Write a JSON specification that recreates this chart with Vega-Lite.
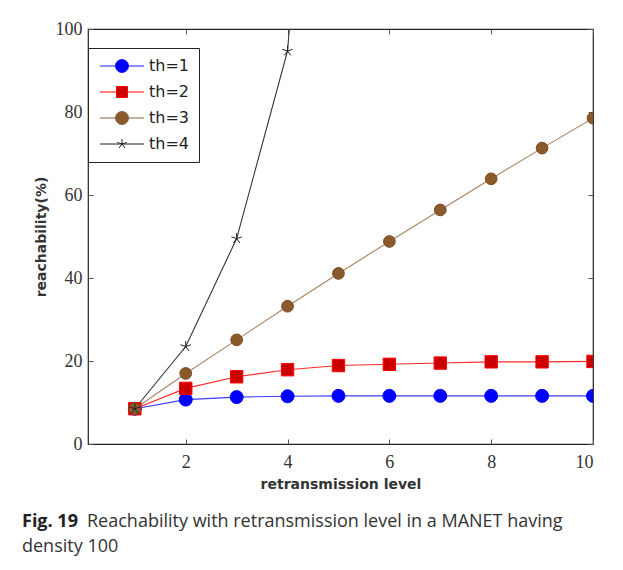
{
  "$schema": "https://vega.github.io/schema/vega-lite/v6.json",
  "width": 505,
  "height": 415,
  "autosize": "none",
  "padding": {"left": 88, "top": 29, "right": 30, "bottom": 126},
  "background": "white",
  "config": {
    "view": {"stroke": "#222222", "strokeWidth": 1.2},
    "axis": {"grid": false, "domain": false}
  },
  "title": {
    "text": "Fig. 19",
    "subtitle": ["\u2800\u2800\u2800\u2800\u2800Reachability with retransmission level in a MANET having", "density 100"],
    "orient": "bottom",
    "anchor": "start",
    "frame": "group",
    "dx": -66,
    "offset": 22,
    "font": "Open Sans",
    "fontSize": 18,
    "fontWeight": "bold",
    "color": "#222222",
    "subtitleFont": "Open Sans",
    "subtitleFontSize": 18,
    "subtitleColor": "#333333",
    "subtitleLineHeight": 25,
    "subtitlePadding": -18
  },
  "data": {
    "values": [
      {"x": 1, "y": 8.5, "s": "th=1"}, {"x": 2, "y": 10.7, "s": "th=1"}, {"x": 3, "y": 11.3, "s": "th=1"}, {"x": 4, "y": 11.5, "s": "th=1"}, {"x": 5, "y": 11.6, "s": "th=1"},
      {"x": 6, "y": 11.6, "s": "th=1"}, {"x": 7, "y": 11.6, "s": "th=1"}, {"x": 8, "y": 11.6, "s": "th=1"}, {"x": 9, "y": 11.6, "s": "th=1"}, {"x": 10, "y": 11.6, "s": "th=1"},
      {"x": 1, "y": 8.5, "s": "th=2"}, {"x": 2, "y": 13.4, "s": "th=2"}, {"x": 3, "y": 16.2, "s": "th=2"}, {"x": 4, "y": 17.9, "s": "th=2"}, {"x": 5, "y": 18.9, "s": "th=2"},
      {"x": 6, "y": 19.2, "s": "th=2"}, {"x": 7, "y": 19.5, "s": "th=2"}, {"x": 8, "y": 19.8, "s": "th=2"}, {"x": 9, "y": 19.8, "s": "th=2"}, {"x": 10, "y": 19.9, "s": "th=2"},
      {"x": 1, "y": 8.5, "s": "th=3"}, {"x": 2, "y": 17.0, "s": "th=3"}, {"x": 3, "y": 25.1, "s": "th=3"}, {"x": 4, "y": 33.2, "s": "th=3"}, {"x": 5, "y": 41.1, "s": "th=3"},
      {"x": 6, "y": 48.8, "s": "th=3"}, {"x": 7, "y": 56.4, "s": "th=3"}, {"x": 8, "y": 63.9, "s": "th=3"}, {"x": 9, "y": 71.3, "s": "th=3"}, {"x": 10, "y": 78.5, "s": "th=3"},
      {"x": 1, "y": 8.5, "s": "th=4"}, {"x": 2, "y": 23.5, "s": "th=4"}, {"x": 3, "y": 49.5, "s": "th=4"}, {"x": 4, "y": 94.7, "s": "th=4"}, {"x": 5, "y": 250, "s": "th=4"}
    ]
  },
  "resolve": {
    "axis": {"x": "independent", "y": "independent"},
    "scale": {"shape": "independent", "fill": "independent", "stroke": "independent", "size": "independent"}
  },
  "layer": [
    {
      "mark": {"type": "line", "strokeWidth": 1.1, "clip": true},
      "encoding": {
        "x": {
          "field": "x", "type": "quantitative",
          "scale": {"domain": [0.08, 10], "nice": false, "zero": false},
          "axis": {
            "orient": "bottom", "values": [2, 4, 6, 8, 10], "tickSize": -5, "tickColor": "#555555",
            "labelFont": "Liberation Serif", "labelFontSize": 18, "labelColor": "#333333", "labelPadding": 14,
            "title": "retransmission level", "titleFont": "DejaVu Sans", "titleFontSize": 14, "titleFontWeight": "bold",
            "titleColor": "#333333", "titlePadding": 6
          }
        },
        "y": {
          "field": "y", "type": "quantitative",
          "scale": {"domain": [0, 100], "nice": false},
          "axis": {
            "orient": "left", "values": [0, 20, 40, 60, 80, 100], "tickSize": -5, "tickColor": "#555555",
            "labelFont": "Liberation Serif", "labelFontSize": 18, "labelColor": "#333333", "labelPadding": 11,
            "title": "reachability(%)", "titleFont": "DejaVu Sans", "titleFontSize": 14, "titleFontWeight": "bold",
            "titleColor": "#333333", "titlePadding": 7
          }
        },
        "color": {
          "field": "s", "type": "nominal",
          "scale": {"domain": ["th=4", "th=3", "th=2", "th=1"], "range": ["#333333", "#a88462", "#ff2a2a", "#3d3dff"]},
          "legend": null
        },
        "detail": {"field": "s"}
      }
    },
    {
      "mark": {"type": "point", "filled": false, "strokeWidth": 1, "opacity": 1, "clip": true},
      "encoding": {
        "x": {
          "field": "x", "type": "quantitative",
          "axis": {"orient": "top", "values": [2, 4, 6, 8, 10], "tickSize": -5, "tickColor": "#555555", "labels": false, "title": null}
        },
        "y": {
          "field": "y", "type": "quantitative",
          "axis": {"orient": "right", "values": [0, 20, 40, 60, 80, 100], "tickSize": -5, "tickColor": "#555555", "labels": false, "title": null}
        },
        "shape": {
          "field": "s", "type": "nominal",
          "scale": {"domain": ["th=1", "th=2", "th=3", "th=4"], "range": ["circle", "square", "circle", "M0,0L0,-1M0,0L-0.951,-0.309M0,0L-0.588,0.809M0,0L0.588,0.809M0,0L0.951,-0.309"]},
          "legend": null
        },
        "fill": {
          "field": "s", "type": "nominal",
          "scale": {"domain": ["th=1", "th=2", "th=3", "th=4"], "range": ["#0000ff", "#cc0000", "#8b5a2b", "transparent"]},
          "legend": null
        },
        "stroke": {
          "field": "s", "type": "nominal",
          "scale": {"domain": ["th=1", "th=2", "th=3", "th=4"], "range": ["#0000ff", "#ff0000", "#7a4a20", "#222222"]},
          "legend": null
        },
        "size": {
          "field": "s", "type": "nominal",
          "scale": {"domain": ["th=1", "th=2", "th=3", "th=4"], "range": [169, 121, 169, 100]},
          "legend": null
        }
      }
    },
    {
      "transform": [{"filter": "datum.x > 100"}],
      "mark": {"type": "point", "filled": false, "strokeWidth": 1, "opacity": 1},
      "encoding": {
        "shape": {
          "field": "s", "type": "nominal",
          "scale": {"domain": ["th=1", "th=2", "th=3", "th=4"], "range": [
            "M-3.667,0H-1.083M1.083,0H3.667M-1.083,0A1.083,1.083 0 1,0 1.083,0A1.083,1.083 0 1,0 -1.083,0Z",
            "M-3.667,0H-0.917M0.917,0H3.667M-0.917,-0.917H0.917V0.917H-0.917Z",
            "M-3.667,0H-1.083M1.083,0H3.667M-1.083,0A1.083,1.083 0 1,0 1.083,0A1.083,1.083 0 1,0 -1.083,0Z",
            "M-3.667,0H3.667M0,0L0,-0.833M0,0L-0.792,-0.257M0,0L-0.49,0.674M0,0L0.49,0.674M0,0L0.792,-0.257"
          ]},
          "legend": {
            "title": null,
            "orient": "none",
            "legendX": 0,
            "legendY": 19,
            "strokeColor": "#222222",
            "fillColor": "white",
            "padding": 10,
            "symbolSize": 144,
            "symbolStrokeWidth": 1,
            "symbolOpacity": 1,
            "symbolOffset": 16,
            "labelOffset": 19,
            "labelFont": "DejaVu Sans",
            "labelFontSize": 16,
            "labelColor": "#222222",
            "rowPadding": 9
          }
        },
        "fill": {
          "field": "s", "type": "nominal",
          "scale": {"domain": ["th=1", "th=2", "th=3", "th=4"], "range": ["#0000ff", "#cc0000", "#8b5a2b", "transparent"]}
        },
        "stroke": {
          "field": "s", "type": "nominal",
          "scale": {"domain": ["th=1", "th=2", "th=3", "th=4"], "range": ["#1a1aff", "#ff0000", "#8a6040", "#222222"]}
        }
      }
    }
  ]
}
